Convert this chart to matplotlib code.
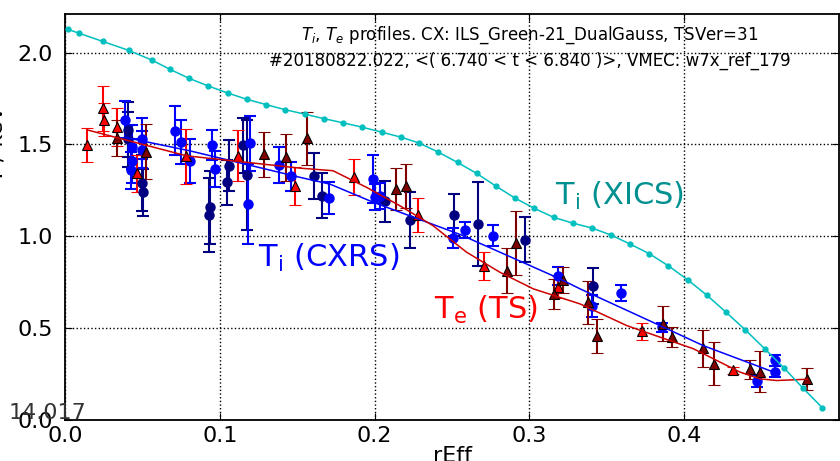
import matplotlib
matplotlib.use("Agg")
import matplotlib.pyplot as plt
import numpy as np

# XICS Ti profile (cyan line with dots)
xics_r = [0.0017, 0.0092, 0.0243, 0.0412, 0.0564, 0.0680, 0.0801, 0.0926, 0.1051, 0.1174,
          0.1298, 0.1423, 0.1548, 0.1670, 0.1795, 0.1920, 0.2045, 0.2169, 0.2290, 0.2412,
          0.2536, 0.2660, 0.2784, 0.2907, 0.3032, 0.3157, 0.3279, 0.3404, 0.3527, 0.3650,
          0.3775, 0.3897, 0.4023, 0.4147, 0.4270, 0.4393, 0.4520, 0.4645, 0.4767, 0.4892]
xics_t = [2.127, 2.105, 2.061, 2.012, 1.958, 1.908, 1.860, 1.818, 1.780, 1.746,
          1.717, 1.689, 1.665, 1.641, 1.618, 1.594, 1.567, 1.540, 1.507, 1.458,
          1.402, 1.342, 1.273, 1.208, 1.152, 1.103, 1.072, 1.045, 1.007, 0.958,
          0.905, 0.840, 0.763, 0.679, 0.587, 0.492, 0.388, 0.283, 0.174, 0.067]

# CXRS fit (blue) and TS fit (red)
cxfit_r = [0.039, 0.0808, 0.1518, 0.1712, 0.1992, 0.2552, 0.3198, 0.3327, 0.3844, 0.4123, 0.4587]
cxfit_t = [1.538, 1.465, 1.321, 1.284, 1.185, 1.010, 0.768, 0.714, 0.514, 0.405, 0.258]
tsfit_r = [0.0144, 0.0786, 0.1518, 0.1731, 0.1949, 0.2164, 0.2377, 0.2595, 0.2810, 0.3025,
           0.3327, 0.3629, 0.4059, 0.4360, 0.4490, 0.4597, 0.4795]
tsfit_t = [1.579, 1.438, 1.371, 1.357, 1.266, 1.166, 1.058, 0.913, 0.804, 0.714,
           0.632, 0.514, 0.388, 0.261, 0.224, 0.215, 0.222]

# TS (red triangles)
ts1_r = [0.0144, 0.0244, 0.0252, 0.0334, 0.0463, 0.0782, 0.1119, 0.1486, 0.1867, 0.2278,
         0.2709, 0.3183, 0.3725, 0.4313]
ts1_t = [1.498, 1.696, 1.634, 1.596, 1.342, 1.435, 1.438, 1.272, 1.321, 1.116,
         0.837, 0.726, 0.482, 0.270]
ts1_e = [0.094, 0.123, 0.09, 0.105, 0.10, 0.15, 0.139, 0.104, 0.098, 0.093,
         0.075, 0.06, 0.048, 0.02]

# TS (dark red triangles)
ts2_r = [0.0334, 0.0521, 0.1286, 0.1428, 0.1565, 0.2138, 0.2201, 0.2853, 0.2913, 0.3215,
         0.3161, 0.3380, 0.3435, 0.3861, 0.3919, 0.4123, 0.4194, 0.4425, 0.4490, 0.4795]
ts2_t = [1.533, 1.460, 1.447, 1.429, 1.533, 1.257, 1.275, 0.813, 0.964, 0.764,
         0.686, 0.641, 0.457, 0.523, 0.451, 0.391, 0.306, 0.275, 0.264, 0.224]
ts2_e = [0.098, 0.15, 0.122, 0.127, 0.145, 0.114, 0.12, 0.122, 0.175, 0.07,
         0.08, 0.116, 0.092, 0.095, 0.054, 0.10, 0.118, 0.054, 0.111, 0.058]

# CXRS (blue circles)
cx1_r = [0.0388, 0.0431, 0.0431, 0.0426, 0.0495, 0.0495, 0.0711, 0.0747, 0.0807, 0.0948,
         0.0969, 0.1195, 0.1185, 0.1384, 0.1460, 0.1707, 0.1988, 0.2003, 0.2035, 0.2505,
         0.2584, 0.2763, 0.3187, 0.3402, 0.3592, 0.3855, 0.4468, 0.4587, 0.4587]
cx1_t = [1.634, 1.484, 1.411, 1.360, 1.532, 1.471, 1.574, 1.511, 1.411, 1.496,
         1.366, 1.507, 1.176, 1.388, 1.326, 1.207, 1.311, 1.212, 1.221, 0.989,
         1.034, 1.003, 0.783, 0.623, 0.692, 0.505, 0.212, 0.324, 0.264]
cx1_e = [0.10, 0.12, 0.12, 0.10, 0.11, 0.10, 0.134, 0.12, 0.12, 0.08,
         0.10, 0.15, 0.22, 0.10, 0.08, 0.088, 0.13, 0.07, 0.07, 0.054,
         0.045, 0.056, 0.05, 0.06, 0.045, 0.025, 0.034, 0.03, 0.03]

# CXRS (navy circles)
cx2_r = [0.0409, 0.0409, 0.0495, 0.0506, 0.0937, 0.0932, 0.1045, 0.1061, 0.1152, 0.1174,
         0.1609, 0.1658, 0.2067, 0.2229, 0.2515, 0.2666, 0.2974, 0.3413]
cx2_t = [1.579, 1.529, 1.290, 1.239, 1.158, 1.116, 1.293, 1.384, 1.496, 1.333,
         1.329, 1.221, 1.190, 1.089, 1.116, 1.067, 0.982, 0.731]
cx2_e = [0.15, 0.15, 0.15, 0.13, 0.2, 0.2, 0.12, 0.14, 0.15, 0.3,
         0.127, 0.122, 0.113, 0.15, 0.113, 0.227, 0.122, 0.098]

fig = plt.figure(figsize=(8.4, 4.61), dpi=100)
ax = fig.add_axes([0.0774, 0.0889, 0.9214, 0.8807])

errkw = dict(capsize=4.5, elinewidth=1.5, capthick=1.5, linestyle='none', zorder=4)
ax.errorbar(cx2_r, cx2_t, yerr=cx2_e, fmt='o', color='#000080', ms=6.5, mec='#000080', **errkw)
ax.errorbar(cx1_r, cx1_t, yerr=cx1_e, fmt='o', color='#0000ff', ms=6.5, mec='#0000ff', **errkw)
ax.errorbar(ts1_r, ts1_t, yerr=ts1_e, fmt='^', color='#ff0000', ms=7.5, mec='black', mew=0.8, **errkw)
ax.errorbar(ts2_r, ts2_t, yerr=ts2_e, fmt='^', color='#800000', ms=7.5, mec='black', mew=0.8, **errkw)

ax.plot(cxfit_r, cxfit_t, color='#0000ff', lw=1.1, zorder=5)
ax.plot(tsfit_r, tsfit_t, color='#cc0000', lw=1.1, zorder=5)
ax.plot(xics_r, xics_t, color='#00bfbf', marker='o', ms=3.5, lw=1.1, zorder=5)

ax.text(0.3585, 1.22, r'T$_\mathrm{i}$ (XICS)', color='#009090', fontsize=22, ha='center', va='center')
ax.text(0.1705, 0.88, r'T$_\mathrm{i}$ (CXRS)', color='#0000ff', fontsize=22, ha='center', va='center')
ax.text(0.272, 0.60, r'T$_\mathrm{e}$ (TS)', color='#ff0000', fontsize=22, ha='center', va='center')

ax.text(0.60, 0.918, r'$T_i$, $T_e$ profiles. CX: ILS_Green-21_DualGauss, TSVer=31' + '\n'
        + '#20180822.022, <( 6.740 < t < 6.840 )>, VMEC: w7x_ref_179',
        transform=ax.transAxes, ha='center', va='center', fontsize=12, linespacing=1.35)

ax.set_xlim(0.0, 0.5)
ax.set_ylim(0.0, 2.21)
ax.set_xticks([0.0, 0.1, 0.2, 0.3, 0.4])
ax.set_xticklabels(['0.0', '0.1', '0.2', '0.3', '0.4'])
ax.set_yticks([0.0, 0.5, 1.0, 1.5, 2.0])
ax.set_yticklabels(['0.0', '0.5', '1.0', '1.5', '2.0'])
ax.tick_params(direction='in', labelsize=16, top=True, right=True, length=5)
ax.tick_params(axis='x', pad=4)
ax.tick_params(axis='y', pad=9)
ax.grid(True, color='black', linestyle=':', linewidth=1)
for s in ax.spines.values():
    s.set_linewidth(1.3)

ax.set_xlabel('rEff', fontsize=16, labelpad=0)
ax.set_ylabel('T / keV', fontsize=16)
ax.yaxis.set_label_coords(-0.076, 0.68)

fig.text(47 / 840, 1 - 413 / 461, '14.017', fontsize=16, color='#333333', ha='center', va='center')

fig.savefig('out.png', dpi=100)
